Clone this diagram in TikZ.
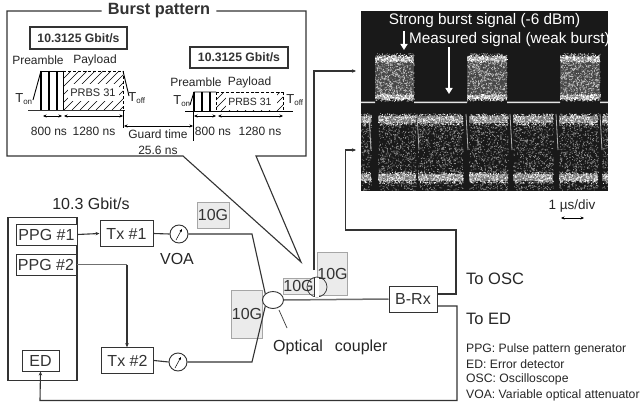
\documentclass[tikz,border=0pt]{standalone}
\usepackage{fontspec}
\setmainfont{Liberation Sans}
\usetikzlibrary{shapes.geometric,arrows.meta,calc}
\definecolor{ln}{gray}{0.2}
\definecolor{gb}{gray}{0.92}
\newcommand{\fsz}[1]{\fontsize{#1}{#1}\selectfont}
\newcommand{\noisefill}[6]{% x0 x1 y0 y1 n opacity
  \fill[white,opacity=#6]
  \foreach \k in {1,...,#5}{
    \pgfextra{\pgfmathsetmacro\nx{#1+rnd*(#2-#1)}\pgfmathsetmacro\ny{#3+rnd*(#4-#3)}}
    (\nx,\ny) rectangle ++(0.8,0.8)
  };
}
\tikzset{
  x=1pt,y=-1pt,
  wire/.style={draw=ln,line width=1.1pt},
  thick wire/.style={draw=ln!70,line width=1.5pt},
  arrowed/.style={-{Stealth[length=4pt,width=3.5pt]}},
  dim/.style={draw=black,line width=.6pt,{Stealth[length=3.5pt,width=3pt]}-{Stealth[length=3.5pt,width=3pt]}},
  blockbox/.style={draw=ln,line width=1pt,fill=white,inner sep=0pt,font=\fsz{16},text=ln},
  tenG/.style={draw=black!35,fill=gb,line width=1pt,inner sep=0pt,font=\fsz{16},text=ln},
  lab/.style={inner sep=0pt,text=black!85,font=\fsz{16}},
  small/.style={inner sep=0pt,text=black!85,font=\fsz{12}},
  legend/.style={inner sep=0pt,anchor=west,text=black!85,font=\fsz{12.2}},
  scopelab/.style={inner sep=0pt,text=white,font=\fsz{15.3}},
  whitearrow/.style={draw=white,line width=1.8pt,-{Triangle[length=6pt,width=7pt]}},
  voacircle/.style={circle,draw=ln,line width=.9pt,minimum size=18pt,inner sep=0pt,fill=white},
  ratebox/.style={draw=ln,line width=1.1pt,inner sep=0pt,font=\bfseries\fsz{12.2},text=ln},
}
\begin{document}
\begin{tikzpicture}
\useasboundingbox (0,0) rectangle (640,404);
\fill[white] (0,0) rectangle (640,404);
% oscilloscope image
\fill[black!90] (361,11) rectangle (608,191);
\pgfmathsetseed{7}
\foreach \a/\b in {375/414,467/507,560/600}{
  \fill[black!72] (\a,56) rectangle (\b,99);
  \fill[black!50] (\a,57) rectangle (\b,61);
  \fill[black!50] (\a,95) rectangle (\b,99);
  \noisefill{\a}{\b}{53}{101}{800}{0.65}
  \noisefill{\a}{\b}{55}{62}{150}{1}
  \noisefill{\a}{\b}{94}{100}{150}{1}
}
\fill[white!90!black] (361,101.5) rectangle (375,103) (414,101.5) rectangle (467,103) (507,101.5) rectangle (560,103) (600,101.5) rectangle (608,103);
\foreach \a/\b in {361/371,378/416,418/463,469/508,513/553,559/598,602/608}{
  \fill[black!55] (\a,116) rectangle (\b,123);
  \fill[black!55] (\a,174) rectangle (\b,181);
  \noisefill{\a}{\b}{113}{190}{\numexpr(\b-\a)*22\relax}{0.5}
  \noisefill{\a}{\b}{114}{125}{\numexpr(\b-\a)*5\relax}{0.9}
  \noisefill{\a}{\b}{172}{183}{\numexpr(\b-\a)*5\relax}{0.9}
}
\foreach \a in {369,417,466,510,556,600}{
  \draw[white!70!black,line width=.8pt] (\a,114) -- (\a+2,150);
}
\node[scopelab] (strong) at (484.5,21) {Strong burst signal (-6 dBm)};
\node[scopelab] (meas) at (509.5,40) {Measured signal (weak burst)};
\coordinate (sa) at (404,31); \coordinate (sb) at (404,50);
\coordinate (ma) at (449,47); \coordinate (mb) at (449,94);
\draw[whitearrow] (sa) -- (sb);
\draw[whitearrow] (ma) -- (mb);
\node[lab,font=\fsz{13.5}] (div) at (572,206) {1 µs/div};
\coordinate (dl) at (561,218); \coordinate (dr) at (584,218);
\draw[dim] (dl) -- (dr);

% burst pattern callout
\coordinate (c1) at (7,11); \coordinate (c2) at (306,11); \coordinate (c3) at (306,156);
\coordinate (c4) at (256,156); \coordinate (tip) at (301,262); \coordinate (c5) at (183,156); \coordinate (c6) at (7,156);
\node[inner sep=0pt,font=\bfseries\fsz{16.3},text=ln] (bp) at (159,11) {Burst pattern};
\draw[wire] (bp.east) ++(6,0) -- (c2) -- (c3) -- (c4) -- (tip) -- (c5) -- (c6) -- (c1) -- ($(bp.west)+(-6,0)$);
\node[ratebox,minimum width=97pt,minimum height=22pt] (r1) at (78.5,38) {10.3125 Gbit/s};
\node[ratebox,minimum width=98pt,minimum height=21pt] (r2) at (239,57.5) {10.3125 Gbit/s};
\node[small] (pre1) at (38,60) {Preamble};
\node[small] (pay1) at (95,60) {Payload};
\node[small] (pre2) at (196,82) {Preamble};
\node[small] (pay2) at (249.5,82) {Payload};
% pulse 1
\begin{scope}
\clip (63,71) rectangle (123,110);
\foreach \i in {0,8,...,104}{\draw[black,line width=.6pt] (24+\i,110) -- (63+\i,71);}
\end{scope}
\fill[white] (68,84) rectangle (119,101);
\draw[wire,line width=.8pt] (28,110) -- (125,110);
\draw[line width=.9pt] (33,100) -- (41,71);
\draw[line width=.9pt,densely dashed] (63,71) -- (123,71);
\draw[line width=.9pt] (41,71) -- (63,71);
\draw[line width=1.6pt] (41,71) -- (41,110);
\draw[line width=1.1pt] (49,71) -- (49,110) (57,71) -- (57,110);
\draw[line width=1pt] (63,71) -- (63,110);
\draw[line width=.8pt,densely dashed] (123,71) -- (123,110);
\draw[line width=.9pt] (123,71) -- (129,96);
\node[small,fill=white,font=\fsz{11},inner sep=1pt] (pr1) at (93,93) {PRBS 31};
\node[small,font=\fsz{13}] (ton1) at (24,99) {T\textsubscript{\fsz{8}on}};
\node[small,font=\fsz{13}] (tof1) at (137,98) {T\textsubscript{\fsz{8}off}};
\draw[dim] (43,116) -- (62,116);
\draw[dim] (64,116) -- (123,116);
\node[small] (t800a) at (49,131) {800 ns};
\node[small] (t128a) at (94,131) {1280 ns};
% pulse 2
\begin{scope}
\clip (216,92) rectangle (283,111);
\foreach \i in {0,8,...,88}{\draw[black,line width=.6pt] (197+\i,111) -- (216+\i,92);}
\end{scope}
\fill[white] (226,93) rectangle (277,110);
\draw[line width=.8pt] (185,111) -- (293,111);
\draw[line width=.9pt] (190,105) -- (194,92) -- (216,92);
\draw[line width=.9pt,densely dashed] (216,92) -- (283,92) (216,92) -- (216,111) (283,92) -- (283,111);
\draw[line width=1.1pt] (194,92) -- (194,111) (202,92) -- (202,111) (210,92) -- (210,111);
\node[small,fill=white,font=\fsz{10.5},inner sep=1pt] (pr2) at (250,102) {PRBS 31};
\node[small,font=\fsz{13}] (ton2) at (182,101) {T\textsubscript{\fsz{8}on}};
\node[small,font=\fsz{13}] (tof2) at (295,100) {T\textsubscript{\fsz{8}off}};
\draw[dim] (194,116) -- (216,116);
\draw[dim] (218,116) -- (283,116);
\node[small] (t800b) at (213,131) {800 ns};
\node[small] (t128b) at (260,131) {1280 ns};
% guard
\draw[line width=.7pt] (123,110) -- (123,128) (193,111) -- (193,141);
\draw[dim] (124,126) -- (193,126);
\node[small] (gt) at (158,134) {Guard time};
\node[small] (gv) at (158,150) {25.6 ns};

% gray 10G boxes
\node[tenG,minimum width=32pt,minimum height=26pt] (g1) at (213,215) {10G};
\node[tenG,minimum width=26pt,minimum height=48pt] (g2) at (247,314) {10G};
\node[tenG,minimum width=31pt,minimum height=16pt] (g3) at (298.5,286) {10G};
\node[tenG,minimum width=27pt,minimum height=43pt] (g4) at (332.5,273.5) {10G};

% equipment
\node[draw=ln,line width=1.1pt,minimum width=69pt,minimum height=162.5pt,inner sep=0pt] (eq) at (42.5,299) {};
\node[lab] (rate) at (91,204) {10.3 Gbit/s};
\node[blockbox,minimum width=61pt,minimum height=21pt] (ppg1) at (46.5,234.5) {PPG \#1};
\node[blockbox,minimum width=60pt,minimum height=21pt] (ppg2) at (46,264.5) {PPG \#2};
\node[blockbox,minimum width=37pt,minimum height=21pt] (ed) at (40.5,360.5) {ED};
\node[blockbox,minimum width=53pt,minimum height=25.5pt] (tx1) at (126.5,233.5) {Tx \#1};
\node[blockbox,minimum width=52pt,minimum height=25.5pt] (tx2) at (127.5,360.5) {Tx \#2};
\node[voacircle] (v1) at (179,234) {};
\node[voacircle] (v2) at (178,362) {};
\draw[line width=.5pt,-{Stealth[length=3pt,width=2.5pt]}] (v1.center)++(-3,6) -- ++(6,-11);
\draw[line width=.5pt,-{Stealth[length=3pt,width=2.5pt]}] (v2.center)++(-3,6) -- ++(6,-11);
\node[lab] (voa) at (177,259) {VOA};
\node[blockbox,minimum width=48pt,minimum height=26pt] (brx) at (413,299) {B-Rx};
\node[ellipse,draw=ln,line width=.9pt,minimum width=21pt,minimum height=17pt,inner sep=0pt,fill=white] (cp) at (273,300) {};
\node[circle,draw=ln,line width=.7pt,minimum size=20pt,inner sep=0pt] (tap) at (317,287) {};
\fill[white] (314.5,278) rectangle (319,297);
\draw[line width=.5pt,ln] (314.5,278) -- (314.5,297);

% connectors
\coordinate (p2b) at (127,264.5);
\draw[wire,arrowed] (ppg1.east) -- (tx1.west);
\draw[thick wire] (ppg2.east) -- (p2b);
\draw[wire,arrowed] (p2b) -- (p2b |- tx2.north);
\draw[wire] (tx1.east) -- (v1.west);
\draw[wire] (tx2.east) -- (v2.west);
\coordinate (u1) at (252,234); \coordinate (u2) at (252,362);
\draw[wire] (v1.east) -- (u1) -- (cp.north west);
\draw[wire] (v2.east) -- (u2) -- (cp.south west);
\draw[thick wire] (cp.east) -- (brx.west);
\coordinate (osc0) at (314,270); \coordinate (osc1) at (314,71); \coordinate (osc1e) at (356,71);
\draw[wire,arrowed] (osc0) -- (osc1) -- (osc1e);
\coordinate (r1a) at (456,294); \coordinate (r1b) at (456,230); \coordinate (r1c) at (345.5,230); \coordinate (r1d) at (345.5,150); \coordinate (r1e) at (356,150);
\draw[wire,arrowed] (brx.east |- r1a) -- (r1a) -- (r1b) -- (r1c) -- (r1d) -- (r1e);
\coordinate (r2a) at (457,306); \coordinate (r2b) at (457,400.5); \coordinate (r2c) at (40,400.5);
\draw[wire,arrowed] (brx.east |- r2a) -- (r2a) -- (r2b) -- (r2c) -- (ed.south);
\coordinate (la) at (279,310); \coordinate (lb) at (287,328);
\draw[line width=.7pt,ln] (la) -- (lb);
% labels
\node[lab,anchor=west] (optc) at (273,347) {Optical\hspace{.75em}coupler};
\node[lab,anchor=west,font=\fsz{16.5}] (toosc) at (466,279) {To OSC};
\node[lab,anchor=west,font=\fsz{16.5}] (toed) at (466,319) {To ED};
\node[legend] (l1) at (466,349) {PPG: Pulse pattern generator};
\node[legend] (l2) at (466,364) {ED: Error detector};
\node[legend] (l3) at (466,379) {OSC: Oscilloscope};
\node[legend] (l4) at (466,395) {VOA: Variable optical attenuator};
\end{tikzpicture}
\end{document}
